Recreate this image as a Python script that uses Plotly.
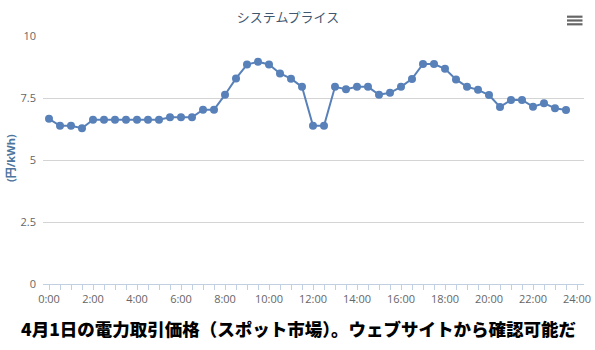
import plotly.graph_objects as go

# Half-hourly slots of the trading day
times = [f"{h}:{m:02d}" for h in range(24) for m in (0, 30)]

# System price (yen/kWh) for each 30-minute slot
prices = [6.66, 6.38, 6.38, 6.28, 6.62, 6.62, 6.62, 6.62, 6.62, 6.62, 6.62, 6.72,
          6.72, 6.72, 7.03, 7.03, 7.63, 8.29, 8.85, 8.96, 8.85, 8.49, 8.28, 7.95,
          6.38, 6.38, 7.95, 7.85, 7.95, 7.95, 7.63, 7.71, 7.95, 8.27, 8.87, 8.87,
          8.68, 8.25, 7.95, 7.83, 7.62, 7.14, 7.42, 7.42, 7.15, 7.29, 7.09, 7.02]

tick_hours = list(range(0, 25, 2))
tick_labels = [f"{h}:00" for h in tick_hours]

def to_hours(t):
    h, m = t.split(":")
    return int(h) + int(m) / 60

x_hours = [to_hours(t) for t in times]

W, H = 595, 350
ML, MR, MT, MB = 43, 11, 36, 66
PW, PH = W - ML - MR, H - MT - MB

line_color = "#5880B9"

fig = go.Figure()
fig.add_trace(go.Scatter(
    x=x_hours, y=prices, mode="lines+markers",
    line=dict(color=line_color, width=2),
    marker=dict(color=line_color, size=8),
    hoverinfo="skip", showlegend=False,
))

def px_x(px):
    return (px - ML) / PW

def px_y(py):
    return (H - MB - py) / PH

# Menu icon in the top-right corner
shapes = []
for yy in (16.7, 20.5, 24.3):
    shapes.append(dict(type="rect", xref="paper", yref="paper",
                       x0=px_x(567), x1=px_x(582.5),
                       y0=px_y(yy + 1.1), y1=px_y(yy - 1.1),
                       fillcolor="#666666", line=dict(width=0), layer="above"))

fig.update_layout(
    width=W, height=H,
    margin=dict(l=ML, r=MR, t=MT, b=MB, autoexpand=False),
    paper_bgcolor="white", plot_bgcolor="white",
    font=dict(family="Open Sans, Noto Sans CJK JP", color="#666666", size=11),
    title=dict(text="システムプライス", x=288 / W, xanchor="center",
               y=1 - 17 / H, yanchor="middle", yref="container",
               font=dict(family="Noto Sans CJK JP", size=13, color="#3E576F")),
    shapes=shapes,
    annotations=[
        dict(text="4月1日の電力取引価格（スポット市場）。ウェブサイトから確認可能だ",
             xref="paper", yref="paper", x=px_x(298), y=px_y(328),
             xanchor="center", yanchor="middle", showarrow=False,
             font=dict(family="Noto Sans CJK JP", size=17.5, color="#000000",
                       weight=900)),
        dict(text="(円/kWh)", textangle=-90,
             xref="paper", yref="paper", x=px_x(10), y=px_y(158),
             xanchor="center", yanchor="middle", showarrow=False,
             font=dict(family="Open Sans, Noto Sans CJK JP", size=11,
                       color="#4D759E", weight=700)),
    ],
)

fig.update_xaxes(
    range=[(ML - 49) / 22, (W - MR - 49) / 22],
    tickmode="array", tickvals=tick_hours, ticktext=tick_labels,
    showgrid=False, zeroline=False, automargin=False,
    showline=True, linecolor="#C0D0E0", linewidth=1,
    ticks="outside", ticklen=5, tickcolor="#C0D0E0", tickwidth=1,
    minor=dict(dtick=0.5, tick0=0, ticks="outside", ticklen=5,
               tickcolor="#C0D0E0", tickwidth=1, showgrid=False),
    tickfont=dict(size=11, color="#666666"),
    fixedrange=True,
)

fig.update_yaxes(
    range=[0, 10], dtick=2.5, tick0=0,
    showgrid=True, gridcolor="#D4D4D4", gridwidth=1,
    zeroline=False, showline=False, automargin=False,
    ticks="", ticklabelstandoff=6,
    tickfont=dict(size=11, color="#666666"),
    fixedrange=True,
)

fig.write_html("out.html", config={"displayModeBar": False})
